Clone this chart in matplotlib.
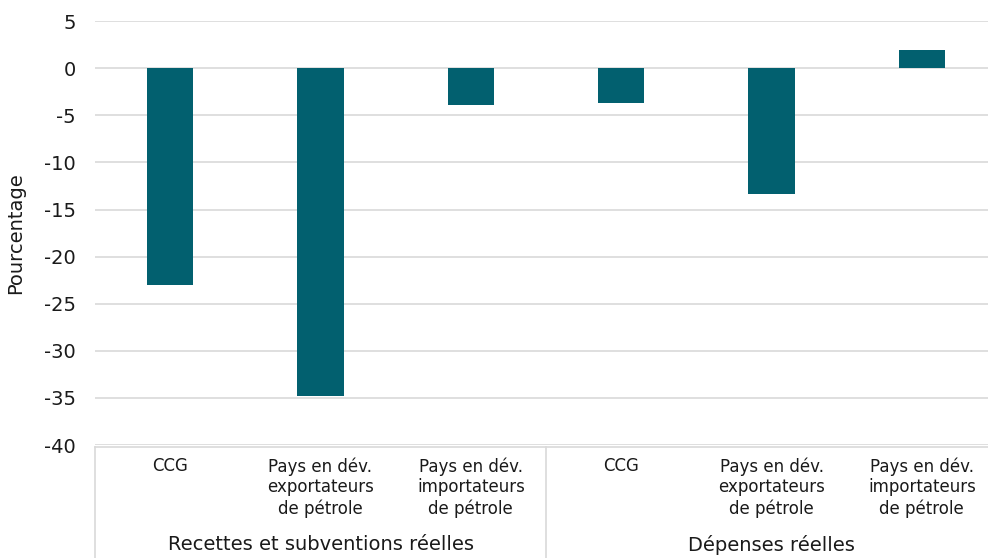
import matplotlib
matplotlib.use("Agg")
import matplotlib.pyplot as plt
from matplotlib.lines import Line2D

plt.rcParams['font.family'] = ['DejaVu Sans']

groups = ["Recettes et subventions réelles", "Dépenses réelles"]
categories = ["CCG",
              "Pays en dév.\nexportateurs\nde pétrole",
              "Pays en dév.\nimportateurs\nde pétrole"]
values_recettes = [-23.0, -34.8, -3.9]
values_depenses = [-3.7, -13.3, 1.9]
y_ticks = [5, 0, -5, -10, -15, -20, -25, -30, -35, -40]

W, H = 988, 558
fig = plt.figure(figsize=(W / 100, H / 100), dpi=100)

left, right, top, bottom = 95, 997, 21.2, 445.1
ax = fig.add_axes([left / W, 1 - bottom / H, (right - left) / W, (bottom - top) / H])

values = values_recettes + values_depenses
labels = categories * len(groups)
x = list(range(len(values)))

bar_color = "#02606F"
grid_color = "#D9D9D9"
text_color = "#1a1a1a"

ax.bar(x, values, width=0.31, color=bar_color, zorder=3)
ax.set_xlim(-0.5, len(values) - 0.5)
ax.set_ylim(-40, 5)
ax.set_yticks(y_ticks)
ax.set_yticklabels([str(v) for v in y_ticks])
ax.yaxis.grid(True, color=grid_color, linewidth=1.2, zorder=0)
ax.tick_params(axis='y', length=0, pad=14, labelsize=14, colors=text_color)
ax.set_xticks([])
for s in ax.spines.values():
    s.set_visible(False)

ax.set_ylabel("Pourcentage", fontsize=14, color=text_color)
ax.yaxis.set_label_coords(-0.077, 0.5)

# multi-level category axis
trans = ax.get_xaxis_transform()
px = 1.0 / (bottom - top)  # one pixel in axes-fraction units
y_axis_line = -(447.3 - bottom) * px
y_bottom = -(H - bottom) * px
ax.add_line(Line2D([-0.5, len(values) - 0.5], [y_axis_line, y_axis_line],
                   transform=trans, color=grid_color, lw=1.2, clip_on=False))
n = len(categories)
for gi in range(len(groups) + 1):
    xv = gi * n - 0.5
    ax.add_line(Line2D([xv, xv], [y_axis_line, y_bottom], transform=trans,
                       color=grid_color, lw=1.2, clip_on=False))

for xi, lab in zip(x, labels):
    ax.text(xi, -(457 - bottom) * px, lab, transform=trans, ha='center', va='top',
            fontsize=12, color=text_color, linespacing=1.2)

for gi, g in enumerate(groups):
    xc = gi * n + (n - 1) / 2
    ax.text(xc, -(545 - bottom) * px, g, transform=trans, ha='center', va='center',
            fontsize=14, color=text_color)

fig.savefig("out.png", dpi=100, facecolor="white")
